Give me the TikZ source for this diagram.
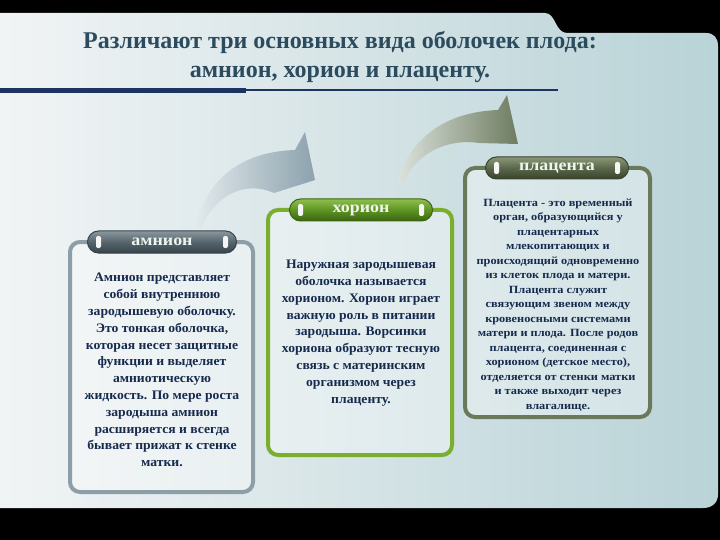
\documentclass[tikz,border=0pt]{standalone}
\usepackage{fontspec}
\setmainfont{Liberation Serif}
\newfontfamily\widefont[FakeStretch=1.12]{Liberation Serif}
\newfontfamily\blurbfont[FakeStretch=1.05]{Liberation Serif}
\usetikzlibrary{positioning,calc}
\definecolor{panelL}{HTML}{F1F4F5}
\definecolor{panelR}{HTML}{B9D3D7}
\definecolor{titleink}{HTML}{2C4B5E}
\definecolor{rulenavy}{HTML}{1B3560}
\definecolor{amframe}{HTML}{8E9EA6}
\definecolor{chframe}{HTML}{7BAE2E}
\definecolor{plframe}{HTML}{6B795B}
\definecolor{amtop}{HTML}{8A989E}
\definecolor{ammid}{HTML}{56656B}
\definecolor{amdark}{HTML}{36434A}
\definecolor{chtop}{HTML}{8DBF4A}
\definecolor{chmid}{HTML}{5E9424}
\definecolor{chdark}{HTML}{3A6410}
\definecolor{pltop}{HTML}{8A9878}
\definecolor{plmid}{HTML}{5A6849}
\definecolor{pldark}{HTML}{38422E}
\definecolor{tubetext}{HTML}{F0F4EE}
\definecolor{blurbink}{HTML}{152A4D}
\definecolor{arrowgray}{HTML}{8CA2AD}
\definecolor{arrowgrayL}{HTML}{E2E9EC}
\definecolor{arrowolive}{HTML}{6E7C60}
\definecolor{arrowoliveL}{HTML}{DCE3DE}

\begin{document}
\begin{tikzpicture}[x=1pt,y=-1pt,
  tube/.style={rounded corners=11pt,minimum height=22pt,inner sep=0pt,line width=1pt,text=tubetext,font=\widefont\bfseries\fontsize{16}{16}\selectfont},
  card/.style={line width=4pt,rounded corners=10pt,fill=white,fill opacity=.35},
  blurb/.style={align=center,text=blurbink,font=\blurbfont\bfseries\fontsize{13}{16.8}\selectfont},
  notch/.style={fill=white!92!gray,rounded corners=2pt}]

  \useasboundingbox (0,0) rectangle (720,540);
  \fill[black] (0,0) rectangle (720,540);
  \shade[left color=panelL,right color=panelR] (0,13) -- (545,13) .. controls (556,13) and (555,33) .. (567,33) -- (706,33) .. controls (714,33) and (718,38) .. (718,46) -- (718,494) .. controls (718,503) and (712,508) .. (703,508) -- (0,508) -- cycle;

  \node[align=center,text=titleink,font=\bfseries\fontsize{24}{29}\selectfont] (title) at (340,57) {Различают три основных вида оболочек плода:\\амнион, хорион и плаценту.};
  \fill[rulenavy] (0,88) rectangle (246,93);
  \draw[rulenavy,line width=2pt] (246,90) -- (558,90);

  \shade[left color=arrowgrayL,right color=arrowgray] (196,226) .. controls (205,185) and (235,152) .. (295,150) -- (305,132) -- (315,180) -- (274,193) .. controls (245,180) and (215,195) .. (201,228) -- cycle;
  \shade[left color=arrowoliveL,right color=arrowolive] (397,183) .. controls (410,138) and (445,112) .. (498,110) -- (507,95) -- (518,144) -- (479,143) .. controls (445,138) and (415,155) .. (402,184) -- cycle;

  \draw[card,draw=amframe] (70,242) rectangle (253,492);
  \draw[card,draw=chframe] (268,210) rectangle (452,455);
  \draw[card,draw=plframe] (465,168) rectangle (650,417);

  \node[tube,minimum width=149pt,draw=amdark,top color=amtop,bottom color=amdark,middle color=ammid] (amnion) at (162,242) {амнион};
  \node[tube,minimum width=143pt,draw=chdark,top color=chtop,bottom color=chdark,middle color=chmid] (chorion) at (361,210) {хорион};
  \node[tube,minimum width=143pt,draw=pldark,top color=pltop,bottom color=pldark,middle color=plmid] (placenta) at (557,168) {плацента};
  \foreach \n in {amnion,chorion,placenta} {
    \fill[notch] ($(\n.west)+(9,-6)$) rectangle ++(5,12);
    \fill[notch] ($(\n.east)+(-14,-6)$) rectangle ++(5,12);
  }

  \node[blurb] (amniontext) at (162,370) {Амнион представляет\\собой внутреннюю\\зародышевую оболочку.\\Это тонкая оболочка,\\которая несет защитные\\функции и выделяет\\амниотическую\\жидкость. По мере роста\\зародыша амнион\\расширяется и всегда\\бывает прижат к стенке\\матки.};
  \node[blurb] (choriontext) at (361,333) {Наружная зародышевая\\оболочка называется\\хорионом. Хорион играет\\важную роль в питании\\зародыша. Ворсинки\\хориона образуют тесную\\связь с материнским\\организмом через\\плаценту.};
  \node[blurb,font=\widefont\bfseries\fontsize{11}{14.5}\selectfont] (placentatext) at (558,305) {Плацента - это временный\\орган, образующийся у\\плацентарных\\млекопитающих и\\происходящий одновременно\\из клеток плода и матери.\\Плацента служит\\связующим звеном между\\кровеносными системами\\матери и плода. После родов\\плацента, соединенная с\\хорионом (детское место),\\отделяется от стенки матки\\и также выходит через\\влагалище.};
\end{tikzpicture}
\end{document}
